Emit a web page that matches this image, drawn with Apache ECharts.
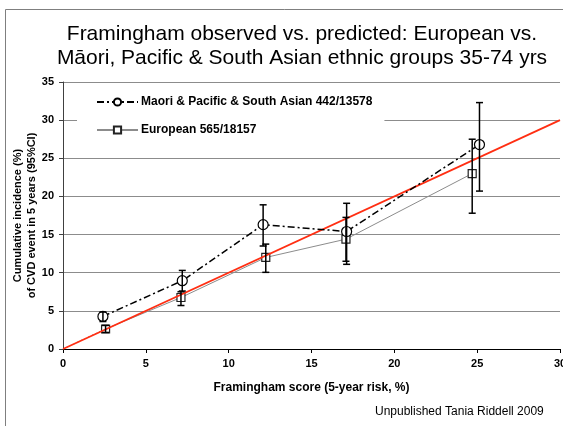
<!DOCTYPE html>
<html><head><meta charset="utf-8">
<script src="https://cdn.jsdelivr.net/npm/echarts@6/dist/echarts.min.js"></script>
<style>html,body{margin:0;padding:0;background:#fff}#c{width:563px;height:426px}</style>
</head><body><div id="c"></div>
<script>
var titleLines = ['Framingham observed vs. predicted: European vs.', 'Māori, Pacific & South Asian ethnic groups 35-74 yrs'];
var xTitle = 'Framingham score (5-year risk, %)';
var yTitleLines = ['Cumulative incidence (%)', 'of CVD event in 5 years (95%CI)'];
var footer = 'Unpublished Tania Riddell 2009';
var maoriName = 'Maori & Pacific & South Asian 442/13578';
var euroName = 'European 565/18157';

var maoriX  = [2.41, 7.20, 12.08, 17.12, 25.14];
var maoriY  = [4.27, 8.95, 16.30, 15.40, 26.80];
var maoriLo = [3.60, 7.60, 13.50, 11.10, 20.70];
var maoriHi = [4.85, 10.30, 18.90, 19.10, 32.30];

var euroX  = [2.57, 7.12, 12.24, 17.08, 24.70];
var euroY  = [2.62, 6.75, 12.00, 14.40, 23.00];
var euroLo = [2.17, 5.70, 10.05, 11.50, 17.80];
var euroHi = [3.09, 7.50, 13.75, 17.25, 27.50];

var predX = [0, 30];
var predY = [0, 30];
var originX = [0];
var originY = [0];

function pairs(xs, ys){ return xs.map(function(x,i){ return [x, ys[i]]; }); }
function errData(xs, lo, hi){ return xs.map(function(x,i){ return [x, lo[i], hi[i]]; }); }

function errRender(params, api){
  var x = api.value(0), lo = api.value(1), hi = api.value(2);
  var pLo = api.coord([x, lo]), pHi = api.coord([x, hi]);
  var w = 3.5;
  var st = {stroke:'#000', lineWidth:1.5};
  return {type:'group', children:[
    {type:'line', shape:{x1:pLo[0], y1:pLo[1], x2:pHi[0], y2:pHi[1]}, style:st},
    {type:'line', shape:{x1:pLo[0]-w, y1:pLo[1], x2:pLo[0]+w, y2:pLo[1]}, style:st},
    {type:'line', shape:{x1:pHi[0]-w, y1:pHi[1], x2:pHi[0]+w, y2:pHi[1]}, style:st}
  ]};
}

var FF = '"Liberation Sans", Arial, sans-serif';
var chart = echarts.init(document.getElementById('c'), null, {renderer:'canvas'});
chart.setOption({
  animation:false,
  backgroundColor:'#fff',
  textStyle:{fontFamily:FF},
  title:{
    text: titleLines.join('\n'),
    left: 297, top: 17, textAlign:'center',
    textStyle:{fontFamily:FF, fontSize:21, fontWeight:'normal', color:'#000', lineHeight:24}
  },
  grid:{left:63, right:3, top:82, bottom:77, containLabel:false, outerBoundsMode:'none'},
  legend:{
    orient:'vertical', left:77, top:91,
    backgroundColor:'#fff',
    padding:[5, 12, 5, 19],
    itemGap:16, itemWidth:41, itemHeight:9,
    data:[maoriName, euroName],
    textStyle:{fontFamily:FF, fontSize:12, fontWeight:'bold', color:'#000', padding:[0,0,0,-2]}
  },
  xAxis:{
    type:'value', min:0, max:30, interval:5,
    name: xTitle, nameLocation:'middle', nameGap:33,
    nameTextStyle:{fontFamily:FF, fontSize:12, fontWeight:'bold', color:'#000'},
    axisLine:{lineStyle:{color:'#000', width:1}},
    axisTick:{show:true, inside:false, length:4, lineStyle:{color:'#000'}},
    axisLabel:{fontFamily:FF, fontSize:11, fontWeight:'bold', color:'#000', margin:9},
    splitLine:{show:false}
  },
  yAxis:{
    type:'value', min:0, max:35, interval:5,
    name: yTitleLines.join('\n'), nameLocation:'middle', nameGap:24, nameRotate:90,
    nameMoveOverlap:false,
    nameTextStyle:{fontFamily:FF, fontSize:11, fontWeight:'bold', color:'#000', lineHeight:14},
    axisLine:{show:true, lineStyle:{color:'#404040', width:1}},
    axisTick:{show:true, inside:false, length:4, lineStyle:{color:'#404040'}},
    axisLabel:{fontFamily:FF, fontSize:11, fontWeight:'bold', color:'#000', margin:9},
    splitLine:{show:true, lineStyle:{color:'#8c8c8c', width:1}}
  },
  graphic:[
    {type:'rect', shape:{x:5.5, y:9.5, width:600, height:500}, style:{fill:null, stroke:'#7f7f7f', lineWidth:1}, silent:true, z:100},
    {type:'text', left:375, top:406, style:{text:footer, font:'12px "Liberation Sans", Arial, sans-serif', fill:'#000'}}
  ],
  series:[
    {
      name: euroName, type:'line', z:2,
      data: pairs(euroX, euroY),
      symbol:'rect', symbolSize:8,
      itemStyle:{color:'#fff', borderColor:'#222', borderWidth:1.2},
      lineStyle:{color:'#8c8c8c', width:1},
      emphasis:{disabled:true}
    },
    {
      name:'origin', type:'line', z:2,
      data: [[originX[0], originY[0]], [euroX[0], euroY[0]]],
      symbol:'none',
      lineStyle:{color:'#333', width:1, type:[1,3]},
      emphasis:{disabled:true}
    },
    {
      name:'predicted', type:'line', z:3,
      data: pairs(predX, predY),
      symbol:'none',
      lineStyle:{color:'#ff2e12', width:1.8},
      emphasis:{disabled:true}
    },
    {
      name: maoriName, type:'line', z:4,
      data: pairs(maoriX, maoriY),
      symbol:'circle', symbolSize:10,
      itemStyle:{color:'#fff', borderColor:'#000', borderWidth:1.2},
      lineStyle:{color:'#000', width:1.5, type:[7,3,2,3]},
      emphasis:{disabled:true}
    },
    {
      type:'custom', z:5, renderItem: errRender,
      data: errData(maoriX, maoriLo, maoriHi),
      encode:{x:0, y:[1,2]}
    },
    {
      type:'custom', z:5, renderItem: errRender,
      data: errData(euroX, euroLo, euroHi),
      encode:{x:0, y:[1,2]}
    }
  ]
});
</script></body></html>
